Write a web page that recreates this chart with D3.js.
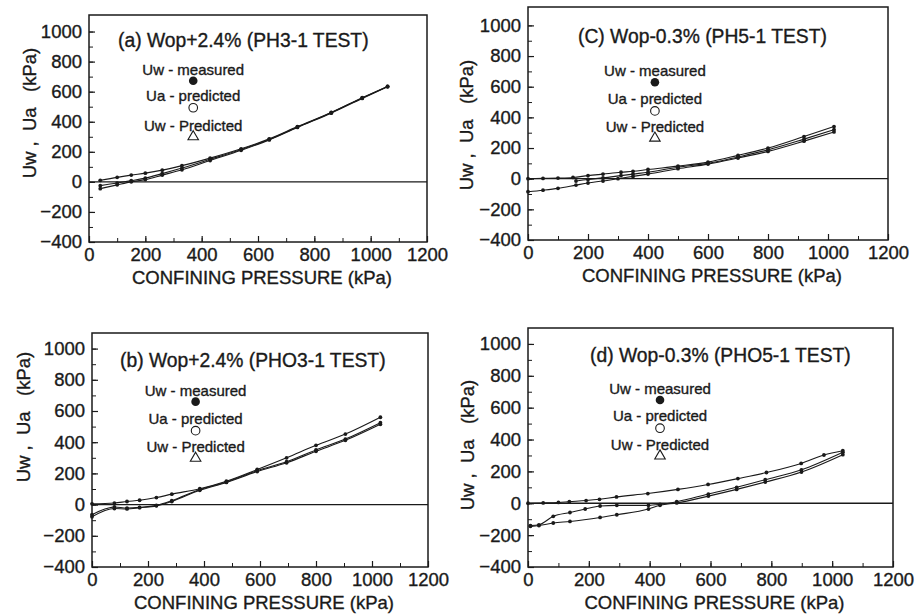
<!DOCTYPE html>
<html><head><meta charset="utf-8">
<script src="https://cdn.jsdelivr.net/npm/d3@7"></script>
<style>
html,body{margin:0;padding:0;background:#fff;}
svg{display:block;font-family:"Liberation Sans",Arial,Helvetica,sans-serif;}
</style></head>
<body>
<svg id="chart" width="917" height="615"></svg>
<script>
// ---------- DATA ----------
const xTicks = [0,200,400,600,800,1000,1200];
const yTicks = [-400,-200,0,200,400,600,800,1000];
const titles = ["(a) Wop+2.4% (PH3-1 TEST)","(C) Wop-0.3% (PH5-1 TEST)","(b) Wop+2.4% (PHO3-1 TEST)","(d) Wop-0.3% (PHO5-1 TEST)"];
const xTitle = "CONFINING PRESSURE (kPa)";
const yTitle = "Uw ,  Ua   (kPa)";
const legendLabels = ["Uw - measured","Ua - predicted","Uw - Predicted"];

// panel (a)
const aX    = [40,100,150,200,260,330,430,540,640,740,860,970,1060];
const aUa   = [10,30,45,58,78,108,158,220,286,368,462,560,635];
const aUwM  = [-25,-8,8,25,55,92,150,215,282,365,460,558,635];
const aUwP  = [-45,-20,0,15,45,80,142,210,279,362,457,555,632];
// panel (c)
const cXa   = [0,50,100,150,200,250,310,350,400,500,600,700,800,920,1020];
const cUa   = [0,2,4,8,20,30,42,48,60,82,108,152,200,275,340];
const cXm   = [0,50,100,160,200,250,300,350,400,500,600,700,800,920,1020];
const cUwM  = [-85,-75,-63,-42,-28,-15,0,15,30,65,95,135,178,245,305];
const cXp   = [160,200,250,310,350,400,500,600,700,800,920,1020];
const cUwP  = [-15,-5,5,20,30,42,75,100,142,188,258,320];
// panel (b)
const bX    = [0,80,125,170,230,285,385,480,590,695,800,905,1030];
const bUa   = [5,10,20,28,45,67,102,150,225,300,380,452,560];
const bUwM  = [-65,-15,-22,-18,-5,25,97,145,218,275,350,420,525];
const bUwP  = [-78,-25,-28,-20,-8,20,92,142,212,268,342,412,515];
// panel (d)
const dXa   = [0,50,100,136,191,235,291,394,493,592,690,784,898,973,1035];
const dUa   = [0,2,5,10,17,25,40,61,87,118,155,193,250,303,330];
const dXm   = [8,36,83,138,188,237,292,396,434,489,593,686,780,899,1035];
const dUwM  = [-140,-135,-82,-58,-36,-17,-13,-13,-7,10,58,100,148,210,320];
const dXp   = [8,36,83,138,237,292,396,434,489,593,686,780,899,1035];
const dUwP  = [-145,-140,-124,-114,-89,-72,-36,-13,2,45,87,133,196,305];

// legend marker positions (data units) per panel
const legendX = [370,423,370,434];
const legendYa = [673,493,300];
const legendYc = [629,442,265];
const legendYb = [660,474,297];
const legendYd = [648,471,297];

// ---------- LAYOUT ----------
const boxes = [
  {l:89,  r:427, t:15,  b:242, yMax:1110, yt:[30,113]},
  {l:528, r:888, t:7,   b:240, yMax:1120, yt:[467,125]},
  {l:92,  r:428, t:333, b:567, yMax:1100, yt:[24,417]},
  {l:528, r:893, t:328, b:567, yMax:1100, yt:[468,445]}
];
const titleOffset = [[29,32],[50,36],[28,34],[62,34]];
const seriesSets = [
  [[aX,aUa],[aX,aUwM],[aX,aUwP]],
  [[cXa,cUa],[cXm,cUwM],[cXp,cUwP]],
  [[bX,bUa],[bX,bUwM],[bX,bUwP]],
  [[dXa,dUa],[dXm,dUwM],[dXp,dUwP]]
];
const legendYs = [legendYa,legendYc,legendYb,legendYd];

const svg = d3.select("#chart");
const ink = "#1a1a1a";
const thick = s => s.attr("stroke",ink).attr("stroke-width",0.35);

boxes.forEach((bx,i)=>{
  const x = d3.scaleLinear().domain([0,1200]).range([bx.l,bx.r]);
  const y = d3.scaleLinear().domain([-400,bx.yMax]).range([bx.b,bx.t]);
  const g = svg.append("g");

  // minor ticks
  const minorX = d3.range(0,1201,100), minorY = d3.range(-400,1001,100);
  g.append("g").attr("transform",`translate(0,${bx.b})`)
    .call(d3.axisBottom(x).tickValues(minorX).tickSize(-4).tickFormat(""))
    .call(s=>s.select(".domain").remove())
    .selectAll("line").attr("stroke",ink).attr("stroke-width",1);
  g.append("g").attr("transform",`translate(${bx.l},0)`)
    .call(d3.axisLeft(y).tickValues(minorY).tickSize(-4).tickFormat(""))
    .call(s=>s.select(".domain").remove())
    .selectAll("line").attr("stroke",ink).attr("stroke-width",1);

  // major axes
  const xa = g.append("g").attr("transform",`translate(0,${bx.b})`)
    .call(d3.axisBottom(x).tickValues(xTicks).tickSize(-6).tickPadding(6).tickFormat(d3.format("d")));
  const ya = g.append("g").attr("transform",`translate(${bx.l},0)`)
    .call(d3.axisLeft(y).tickValues(yTicks).tickSize(-6).tickPadding(7).tickFormat(d3.format("d")));
  [xa,ya].forEach(a=>{
    a.select(".domain").remove();
    a.selectAll("line").attr("stroke",ink).attr("stroke-width",1.2);
    a.selectAll("text").attr("font-size",18.5).attr("fill",ink)
      .attr("font-family","Liberation Sans, Arial, sans-serif").call(thick);
  });

  // frame
  g.append("rect").attr("x",bx.l).attr("y",bx.t).attr("width",bx.r-bx.l).attr("height",bx.b-bx.t)
    .attr("fill","none").attr("stroke",ink).attr("stroke-width",1.5);

  // zero line
  g.append("line").attr("x1",x(0)).attr("x2",x(1200)).attr("y1",y(0)).attr("y2",y(0))
    .attr("stroke",ink).attr("stroke-width",1.3);

  // curves
  const line = d3.line().x(d=>x(d[0])).y(d=>y(d[1])).curve(d3.curveMonotoneX);
  seriesSets[i].forEach(([xs,ys],k)=>{
    const pts = xs.map((v,j)=>[v,ys[j]]);
    g.append("path").datum(pts).attr("d",line).attr("fill","none")
      .attr("stroke",ink).attr("stroke-width",1.1);
    g.selectAll(null).data(pts).enter().append("circle")
      .attr("cx",d=>x(d[0])).attr("cy",d=>y(d[1])).attr("r",1.9).attr("fill",ink);
  });

  // legend
  const lx = legendX[i];
  legendYs[i].forEach((ly,k)=>{
    const px = x(lx), py = y(ly);
    g.append("text").attr("x",px).attr("y",py-(k===1?7:6)).attr("text-anchor","middle")
      .attr("font-size",15).attr("fill",ink).call(thick).text(legendLabels[k]);
    if(k===0){
      g.append("circle").attr("cx",px).attr("cy",py).attr("r",4.3).attr("fill",ink);
    } else if(k===1){
      g.append("circle").attr("cx",px).attr("cy",py).attr("r",4.3).attr("fill","none").attr("stroke",ink).attr("stroke-width",1.1);
    } else {
      g.append("path").attr("transform",`translate(${px},${py})`)
        .attr("d",d3.symbol(d3.symbolTriangle,48)).attr("fill","none").attr("stroke",ink).attr("stroke-width",1.1);
    }
  });

  // titles
  g.append("text").attr("x",bx.l+titleOffset[i][0]).attr("y",bx.t+titleOffset[i][1])
    .attr("font-size",19.3).attr("fill",ink).call(thick).text(titles[i]);
  g.append("text").attr("x",(bx.l+bx.r)/2+4).attr("y",bx.b+42).attr("text-anchor","middle")
    .attr("font-size",18.5).attr("fill",ink).call(thick).text(xTitle);
  g.append("text").attr("transform",`translate(${bx.yt[0]},${bx.yt[1]}) rotate(-90)`)
    .attr("text-anchor","middle").attr("dy","0.35em").attr("font-size",18.5)
    .attr("fill",ink).call(thick).style("white-space","pre").text(yTitle);
});
</script>
</body></html>
